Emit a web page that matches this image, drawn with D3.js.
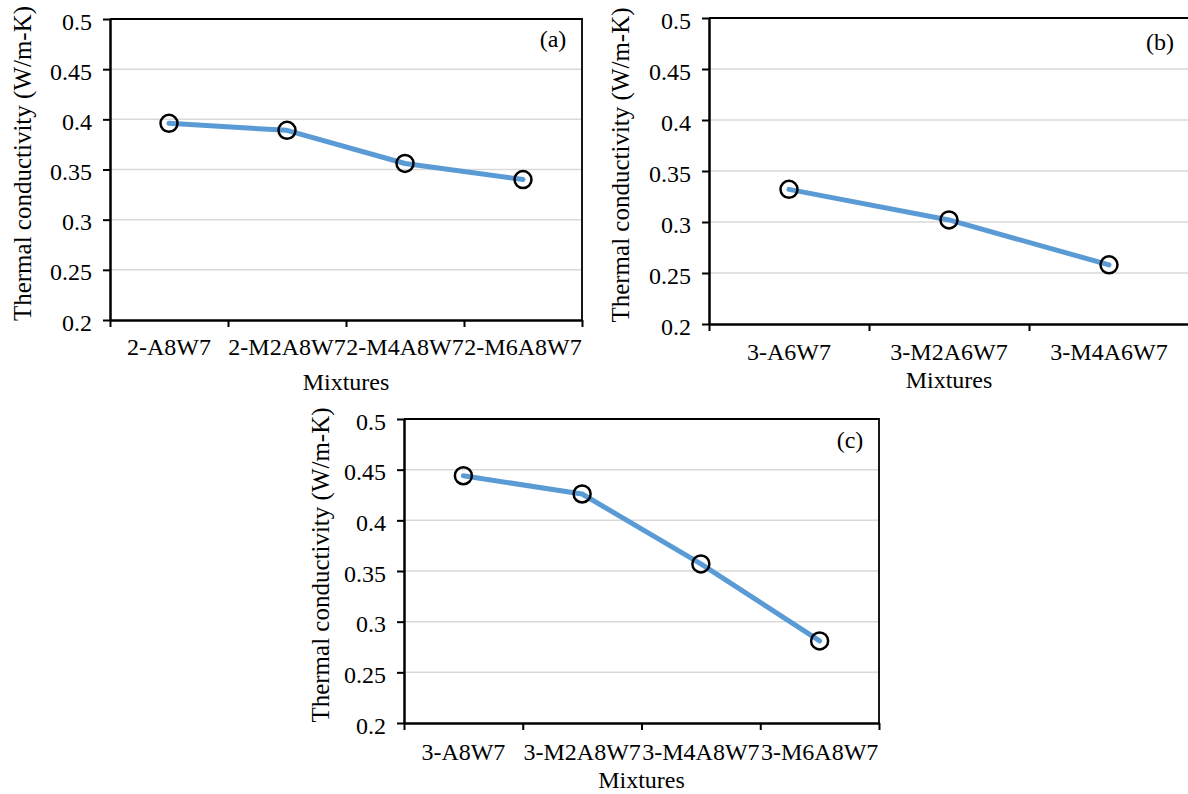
<!DOCTYPE html>
<html>
<head>
<meta charset="utf-8">
<script src="https://cdn.jsdelivr.net/npm/d3@7"></script>
<style>
  body { margin: 0; background: #fff; }
  svg text { font-family: "Liberation Serif", "Times New Roman", Times, serif; fill: #000; }
</style>
</head>
<body>
<div id="chart"></div>
<script>
// data
var yTicks = [0.2, 0.25, 0.3, 0.35, 0.4, 0.45, 0.5];

var mixturesA = ["2-A8W7", "2-M2A8W7", "2-M4A8W7", "2-M6A8W7"];
var conductA = [0.396, 0.389, 0.356, 0.340];

var mixturesB = ["3-A6W7", "3-M2A6W7", "3-M4A6W7"];
var conductB = [0.332, 0.302, 0.258];

var mixturesC = ["3-A8W7", "3-M2A8W7", "3-M4A8W7", "3-M6A8W7"];
var conductC = [0.444, 0.426, 0.357, 0.281];

var serif = '"Liberation Serif", "Times New Roman", Times, serif';

var svg = d3.select("#chart")
    .append("svg")
    .attr("width", 1188)
    .attr("height", 794);

// one panel = one little Excel-like line chart
function drawPanel(cats, vals, tag, box) {
    var width = box.x1 - box.x0;
    var height = box.y1 - box.y0;

    var g = svg.append("g")
        .attr("transform", `translate(${box.x0}, ${box.y0})`)
        .attr("font-family", serif);

    var x = d3.scaleBand().domain(cats).range([0, width]);
    var xEdge = d3.scaleLinear().domain([0, cats.length]).range([0, width]);
    var y = d3.scaleLinear().domain([0.2, 0.5]).range([height, 0]);

    // gridlines
    g.selectAll(".grid")
        .data(yTicks.slice(1))
        .enter()
        .append("line")
        .attr("x1", 0)
        .attr("x2", width)
        .attr("y1", d => y(d))
        .attr("y2", d => y(d))
        .attr("stroke", "#d9d9d9")
        .attr("stroke-width", 1.5);

    // top / right frame
    g.append("path")
        .attr("d", `M0,0H${width}V${height}`)
        .attr("fill", "none")
        .attr("stroke", "#000")
        .attr("stroke-width", 1.8);

    // y axis
    var leftAxis = d3.axisLeft(y)
        .tickValues(yTicks)
        .tickFormat(d3.format("~g"))
        .tickSize(7)
        .tickSizeOuter(0)
        .tickPadding(11);
    var ya = g.append("g").call(leftAxis).attr("font-family", serif);
    ya.select(".domain").attr("stroke-width", 2.5);
    ya.selectAll(".tick line").attr("stroke-width", 2);
    ya.selectAll("text")
        .attr("dy", "0.42em")
        .style("font-size", "24px");

    // x axis: ticks on the category edges, labels in the bands
    var edgeAxis = d3.axisBottom(xEdge)
        .tickValues(d3.range(cats.length + 1))
        .tickFormat("")
        .tickSize(7)
        .tickSizeOuter(0);
    var xa = g.append("g")
        .attr("transform", `translate(0, ${height})`)
        .call(edgeAxis);
    xa.select(".domain").attr("stroke-width", 2.5);
    xa.selectAll(".tick line").attr("stroke-width", 2);

    var labelAxis = d3.axisBottom(x).tickSize(0).tickPadding(box.labGap);
    var xl = g.append("g")
        .attr("transform", `translate(0, ${height})`)
        .call(labelAxis)
        .attr("font-family", serif);
    xl.select(".domain").remove();
    xl.selectAll("text")
        .attr("dy", "0em")
        .style("font-size", "24px");

    // the series
    var line = d3.line()
        .x((d, i) => x(cats[i]) + x.bandwidth() / 2)
        .y(d => y(d));

    g.append("path")
        .datum(vals)
        .attr("d", line)
        .attr("fill", "none")
        .attr("stroke", "#5b9bd5")
        .attr("stroke-width", 5)
        .attr("stroke-linecap", "round")
        .attr("stroke-linejoin", "round");

    g.selectAll(".pt")
        .data(vals)
        .enter()
        .append("circle")
        .attr("cx", (d, i) => x(cats[i]) + x.bandwidth() / 2)
        .attr("cy", d => y(d))
        .attr("r", 8.5)
        .attr("fill", "none")
        .attr("stroke", "#000")
        .attr("stroke-width", 2.5);

    // panel tag
    g.append("text")
        .attr("x", box.tagX - box.x0)
        .attr("y", box.tagY - box.y0)
        .attr("text-anchor", "middle")
        .style("font-size", "24px")
        .text(tag);

    // axis titles
    g.append("text")
        .attr("x", width / 2)
        .attr("y", height + box.titleGap)
        .attr("text-anchor", "middle")
        .style("font-size", "24px")
        .text("Mixtures");

    g.append("text")
        .attr("transform", `translate(${box.yTitleX - box.x0}, ${height / 2 - 6}) rotate(-90)`)
        .attr("text-anchor", "middle")
        .attr("dy", "0.35em")
        .style("font-size", "25px")
        .text("Thermal conductivity (W/m-K)");
}

drawPanel(mixturesA, conductA, "(a)",
    {x0: 110, x1: 582, y0: 19, y1: 320, tagX: 553, tagY: 47, labGap: 35, titleGap: 70, yTitleX: 22});
drawPanel(mixturesB, conductB, "(b)",
    {x0: 709, x1: 1189, y0: 18, y1: 324, tagX: 1160, tagY: 50, labGap: 36, titleGap: 64, yTitleX: 620});
drawPanel(mixturesC, conductC, "(c)",
    {x0: 404, x1: 879, y0: 419, y1: 723, tagX: 850, tagY: 448, labGap: 37, titleGap: 65, yTitleX: 320});
</script>
</body>
</html>
